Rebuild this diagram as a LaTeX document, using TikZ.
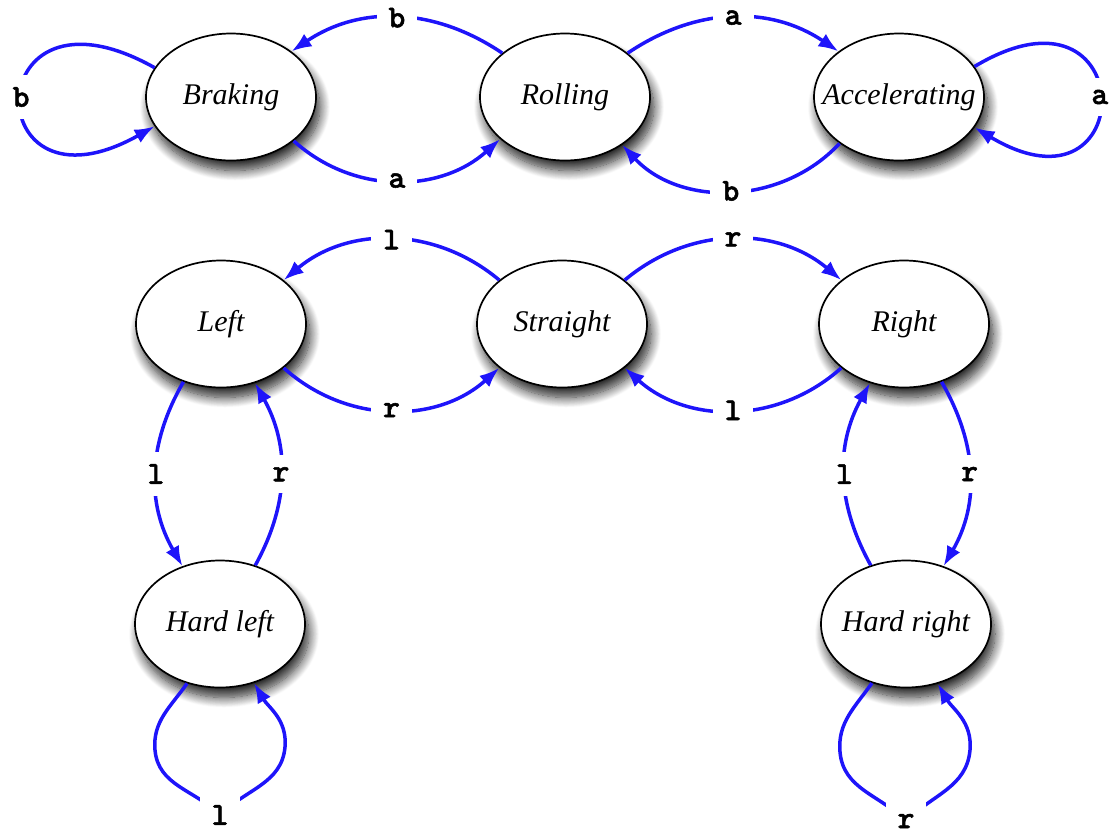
\documentclass[tikz,border=0pt]{standalone}
\usepackage{fontspec}
\setmainfont{Liberation Serif}
\newfontfamily\lblfont{lmmonolt10-bold.otf}[FakeBold=1.6]
\usetikzlibrary{arrows.meta,shapes.geometric,shadows.blur}
\definecolor{edgeblue}{RGB}{30,20,250}
\newcommand\statetext[1]{\makebox[0pt]{#1}}
\begin{document}
\begin{tikzpicture}[x=1pt,y=1pt,
  state/.style={ellipse, draw=black, line width=1.7pt, fill=white,
    minimum width=170pt, minimum height=127pt, inner sep=0pt,
    font=\fontsize{30}{36}\selectfont\itshape,
    blur shadow={shadow xshift=4pt, shadow yshift=-10pt, shadow blur radius=10pt,
      shadow blur steps=14, shadow opacity=85}},
  trans/.style={draw=edgeblue, line width=3.5pt, -{Latex[length=20pt,width=15pt]}},
  lbl/.style={fill=white, inner sep=12pt, text=black,
    font=\fontsize{32}{38}\selectfont\lblfont}]
\useasboundingbox (0,0) rectangle (1113,-836);

\node[state] (brk) at (231,-97) {\statetext{Braking}};
\node[state] (rol) at (565,-97) {\statetext{Rolling}};
\node[state] (acc) at (899,-97) {\statetext{Accelerating}};
\node[state] (lft) at (221,-324) {\statetext{Left}};
\node[state] (str) at (562,-324) {\statetext{Straight}};
\node[state] (rgt) at (904,-324) {\statetext{Right}};
\node[state] (hl) at (220,-624) {\statetext{Hard left}};
\node[state] (hr) at (906,-624) {\statetext{Hard right}};

\coordinate (hlL) at (155,-750);
\coordinate (hlb) at (220,-815);
\coordinate (hlR) at (285,-747);
\coordinate (hrL) at (840,-752);
\coordinate (hrb) at (906,-821);
\coordinate (hrR) at (970,-750);

\draw[trans] (rol.145) to[out=146,in=34] node[lbl]{b} (brk.37);
\draw[trans] (brk.325) to[out=318,in=222] node[lbl]{a} (rol.213);
\draw[trans] (rol.35) to[out=34,in=146] node[lbl]{a} (acc.143);
\draw[trans] (acc.218) to[out=227,in=313] node[lbl]{b} (rol.320);
\draw[trans] (brk.159) .. controls +(-178,100) and +(-178,-100) .. (brk.201) node[lbl,pos=0.5]{b};
\draw[trans] (acc.22) .. controls +(167,100) and +(167,-100) .. (acc.338) node[lbl,pos=0.5]{a};

\draw[trans] (str.145) to[out=140,in=40] node[lbl]{l} (lft.35);
\draw[trans] (lft.325) to[out=318,in=222] node[lbl]{r} (str.215);
\draw[trans] (str.35) to[out=40,in=140] node[lbl]{r} (rgt.145);
\draw[trans] (rgt.215) to[out=222,in=318] node[lbl]{l} (str.325);

\draw[trans] (lft.237) to[out=240,in=120] node[lbl]{l} (hl.123);
\draw[trans] (hl.59) to[out=61,in=299] node[lbl]{r} (lft.300);
\draw[trans] (rgt.303) to[out=300,in=60] node[lbl]{r} (hr.57);
\draw[trans] (hr.121) to[out=119,in=241] node[lbl]{l} (rgt.240);

\draw[trans] (hl.241) to[out=235,in=95] (hlL) to[out=275,in=135] (hlb)
  to[out=45,in=265] (hlR) to[out=85,in=300] (hl.300);
\node[lbl] at (hlb) {l};
\draw[trans] (hr.240) to[out=235,in=95] (hrL) to[out=275,in=135] (hrb)
  to[out=45,in=265] (hrR) to[out=85,in=300] (hr.298);
\node[lbl] at (hrb) {r};
\end{tikzpicture}
\end{document}
